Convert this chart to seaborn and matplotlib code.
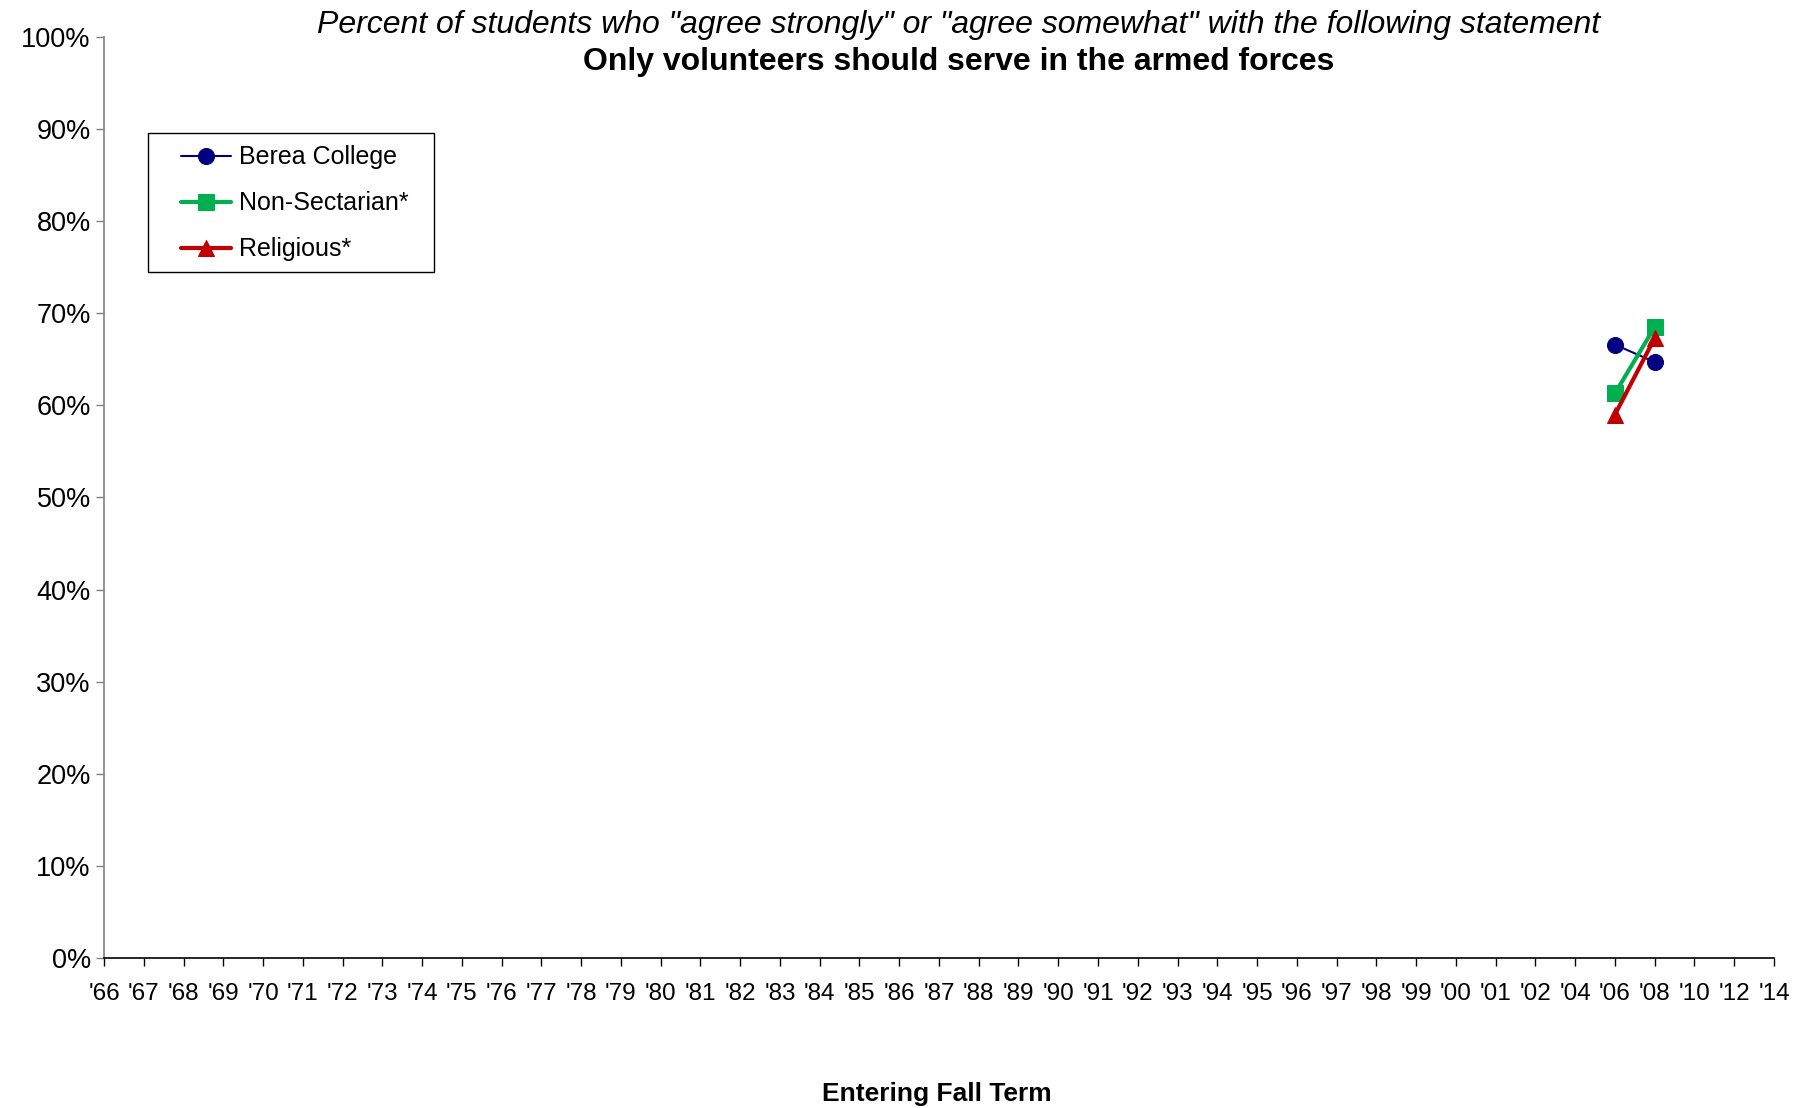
import numpy as np
import pandas as pd
import seaborn as sns
import matplotlib.pyplot as plt
from matplotlib.patches import Rectangle
from matplotlib.ticker import PercentFormatter

# category labels along the x axis
years = ["'%02d" % (y % 100) for y in range(1966, 2003)] + ["'04", "'06", "'08", "'10", "'12", "'14"]

# survey years that have data
data_years = ["'06", "'08"]
berea = [66.6, 64.7]
non_sectarian = [61.3, 68.5]
religious = [59.0, 67.3]

series_names = ["Berea College", "Non-Sectarian*", "Religious*"]
colors = ["#000080", "#00B050", "#C00000"]
markers = ["o", "s", "^"]
widths = [1.5, 3.0, 3.0]

rows = []
for name, vals in zip(series_names, [berea, non_sectarian, religious]):
    for yr, v in zip(data_years, vals):
        rows.append({"pos": years.index(yr), "value": v, "group": name})
df = pd.DataFrame(rows)

sns.set_style("white")
plt.rcParams["font.family"] = ["Liberation Sans", "DejaVu Sans"]
plt.rcParams["text.color"] = "black"
plt.rcParams["xtick.color"] = "black"
plt.rcParams["ytick.color"] = "black"

fig = plt.figure(figsize=(18.12, 11.08), dpi=100)
ax = fig.add_axes([0.0574, 0.1354, 0.9216, 0.8312])

for name, c, m, lw in zip(series_names, colors, markers, widths):
    sub = df[df["group"] == name]
    sns.lineplot(data=sub, x="pos", y="value", ax=ax, color=c, marker=m,
                 markersize=11.5, markeredgecolor=c, linewidth=lw, label=name)

ax.set_xlim(0, len(years) - 1)
ax.set_ylim(0, 100)
ax.set_xticks(range(len(years)))
ax.set_xticklabels(years, fontsize=17.5)
ax.set_yticks(range(0, 101, 10))
ax.yaxis.set_major_formatter(PercentFormatter(decimals=0))
ax.tick_params(axis="y", labelsize=19.5, length=6, width=1, color="#808080",
               labelcolor="black", direction="out", left=True)
ax.tick_params(axis="x", length=6, width=1, color="black", labelcolor="black",
               direction="out", bottom=True, pad=12)

for s in ["top", "right"]:
    ax.spines[s].set_visible(False)
ax.spines["left"].set_color("#808080")
ax.spines["bottom"].set_color("black")
ax.spines["left"].set_linewidth(1.2)
ax.spines["bottom"].set_linewidth(1.2)

ax.set_xlabel("")
ax.set_ylabel("")

fig.text(0.529, 0.977, 'Percent of students who "agree strongly" or "agree somewhat" with the following statement',
         ha="center", va="center", fontsize=23, style="italic", color="black")
fig.text(0.529, 0.944, "Only volunteers should serve in the armed forces",
         ha="center", va="center", fontsize=23, fontweight="bold", color="black")
fig.text(0.517, 0.013, "Entering Fall Term", ha="center", va="center", fontsize=19,
         fontweight="bold", color="black")

# legend without its own frame; box drawn separately (wider side padding like the original)
leg = ax.legend(loc="upper left", bbox_to_anchor=(0.0999, 0.8687), bbox_transform=fig.transFigure,
                borderaxespad=0, borderpad=0, fontsize=18, frameon=False,
                handlelength=2.0, handletextpad=0.3, labelspacing=0.88)
for t in leg.get_texts():
    t.set_color("black")
fig.patches.append(Rectangle((0.0817, 0.7545), 0.1578, 0.1255, transform=fig.transFigure,
                             fill=False, edgecolor="black", linewidth=1.0))

fig.savefig("out.png", dpi=100)
